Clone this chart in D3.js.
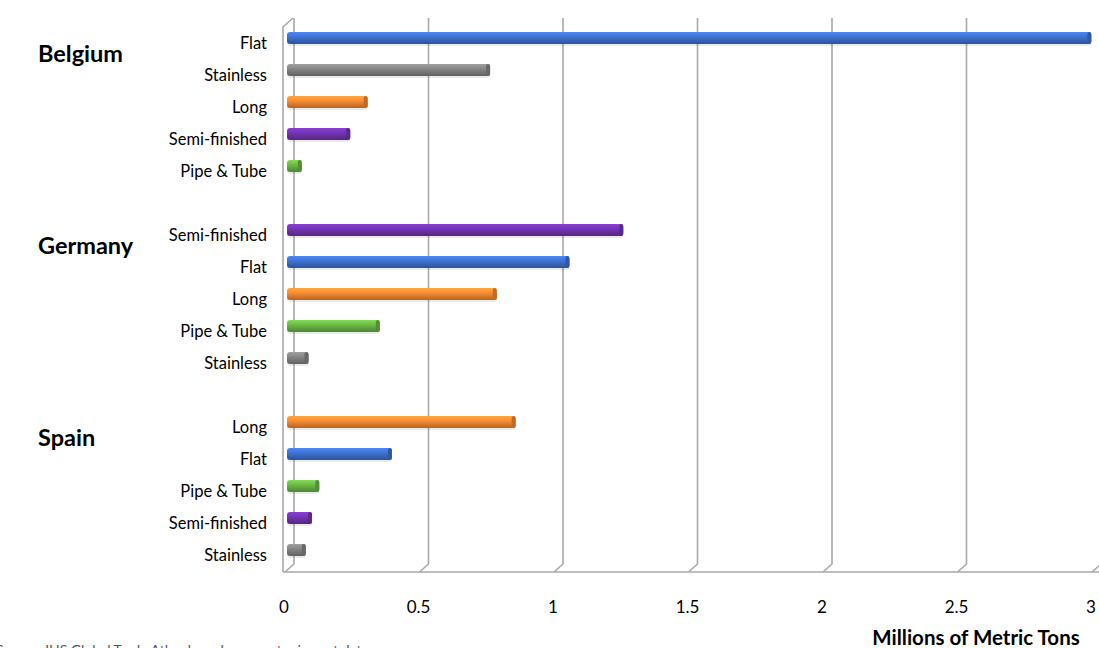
<!DOCTYPE html>
<html>
<head>
<meta charset="utf-8">
<script src="https://cdn.jsdelivr.net/npm/d3@7"></script>
<style>
  body { margin: 0; background: #fff; }
  svg { display: block; font-family: Lato, "Open Sans", sans-serif; }
</style>
</head>
<body>
<svg id="chart" width="1099" height="648"></svg>
<script>
// countries and their product rows, top to bottom
var countries = ["Belgium", "Germany", "Spain"];
var belgiumProducts = ["Flat", "Stainless", "Long", "Semi-finished", "Pipe & Tube"];
var belgiumValues = [2.99, 0.755, 0.30, 0.235, 0.055];
var germanyProducts = ["Semi-finished", "Flat", "Long", "Pipe & Tube", "Stainless"];
var germanyValues = [1.25, 1.05, 0.78, 0.345, 0.08];
var spainProducts = ["Long", "Flat", "Pipe & Tube", "Semi-finished", "Stainless"];
var spainValues = [0.85, 0.39, 0.12, 0.093, 0.07];
var xTicks = [0, 0.5, 1, 1.5, 2, 2.5, 3];
var xTickLabels = ["0", "0.5", "1", "1.5", "2", "2.5", "3"];

var productColors = {
    "Flat": "#3f72cf",
    "Stainless": "#858585",
    "Long": "#f68b33",
    "Semi-finished": "#7434b3",
    "Pipe & Tube": "#6cb846"
};

// build rows with a blank slot between groups
var groups = [belgiumProducts, germanyProducts, spainProducts];
var groupValues = [belgiumValues, germanyValues, spainValues];
var rows = [];
groups.forEach(function (prods, g) {
    prods.forEach(function (p, i) {
        rows.push({ key: g + "-" + i, country: countries[g], product: p, value: groupValues[g][i], first: i === 1 });
    });
    if (g < groups.length - 1) rows.push({ key: "gap" + g, blank: true });
});

var svg = d3.select("#chart");
var x = d3.scaleLinear().domain([0, 3]).range([287, 1094]);
var y = d3.scaleBand().domain(rows.map(function (d) { return d.key; })).range([22, 566]);

var floorY = 572, backTop = 18, backBottom = 564;
var gridColor = "#a9a9a9";

// gradients for the cylinder look
var defs = svg.append("defs");
Object.keys(productColors).forEach(function (p, i) {
    var c = d3.color(productColors[p]);
    var gr = defs.append("linearGradient").attr("id", "g" + i)
        .attr("x1", 0).attr("y1", 0).attr("x2", 0).attr("y2", 1);
    gr.append("stop").attr("offset", "0%").attr("stop-color", c.brighter(0.5));
    gr.append("stop").attr("offset", "35%").attr("stop-color", c.brighter(0.1));
    gr.append("stop").attr("offset", "100%").attr("stop-color", c.darker(0.9));
    productColors[p] = { base: c, grad: "url(#g" + i + ")" };
});

// left wall
svg.append("path")
    .attr("d", "M283," + floorY + "L283,27L" + (x(0) + 6) + "," + backTop)
    .attr("fill", "none").attr("stroke", gridColor).attr("stroke-width", 1.6);

// back gridlines with floor return
xTicks.forEach(function (v) {
    var bx = x(v) + 7;
    svg.append("path")
        .attr("d", "M" + bx + "," + backTop + "L" + bx + "," + backBottom + "L" + (x(v) - 2) + "," + floorY)
        .attr("fill", "none").attr("stroke", gridColor).attr("stroke-width", 1.6);
});

// floor front edge
svg.append("line").attr("x1", 283).attr("x2", 1099).attr("y1", floorY).attr("y2", floorY)
    .attr("stroke", gridColor).attr("stroke-width", 1.6);

// bars
var barH = 12;
var data = rows.filter(function (d) { return !d.blank; });
var bar = svg.selectAll("g.bar").data(data).enter().append("g").attr("class", "bar")
    .attr("transform", function (d) { return "translate(0," + (y(d.key) + y.bandwidth() / 2) + ")"; });

bar.append("rect")
    .attr("x", x(0)).attr("y", -barH / 2 + 2)
    .attr("width", function (d) { return x(d.value) - x(0); })
    .attr("height", barH).attr("rx", 3)
    .attr("fill", "#000").attr("opacity", 0.08);
bar.append("rect")
    .attr("x", x(0)).attr("y", -barH / 2)
    .attr("width", function (d) { return x(d.value) - x(0); })
    .attr("height", barH).attr("rx", 3)
    .attr("fill", function (d) { return productColors[d.product].grad; });
bar.append("rect")
    .attr("x", function (d) { return x(d.value) - 4; }).attr("y", -barH / 2)
    .attr("width", 4).attr("height", barH).attr("rx", 2)
    .attr("fill", function (d) { return productColors[d.product].base.darker(0.7); });

// product labels
svg.selectAll("text.cat").data(data).enter().append("text").attr("class", "cat")
    .attr("x", 267)
    .attr("y", function (d) { return y(d.key) + y.bandwidth() / 2 + 5; })
    .attr("dy", "0.35em")
    .attr("text-anchor", "end")
    .attr("font-size", 16.5).attr("fill", "#000")
    .text(function (d) { return d.product; });

// country labels
svg.selectAll("text.country").data(data.filter(function (d) { return d.first; })).enter()
    .append("text").attr("class", "country")
    .attr("x", 38)
    .attr("y", function (d) { return y(d.key); })
    .attr("dy", "0.35em")
    .attr("font-size", 23.5).attr("font-weight", "bold")
    .text(function (d) { return d.country; });

// x tick labels
svg.selectAll("text.tick").data(xTicks).enter().append("text").attr("class", "tick")
    .attr("x", function (v) { return x(v) - 3; })
    .attr("y", 613)
    .attr("text-anchor", "middle")
    .attr("font-size", 17)
    .text(function (v, i) { return xTickLabels[i]; });

// axis title
svg.append("text").attr("x", 976).attr("y", 645).attr("text-anchor", "middle")
    .attr("font-size", 20.5).attr("font-weight", "bold")
    .text("Millions of Metric Tons");

// source note, cut off by the image edge
svg.append("text").attr("x", -4).attr("y", 655)
    .attr("font-size", 14).attr("fill", "#555")
    .text("Source: IHS Global Trade Atlas, based on country import data");
</script>
</body>
</html>
